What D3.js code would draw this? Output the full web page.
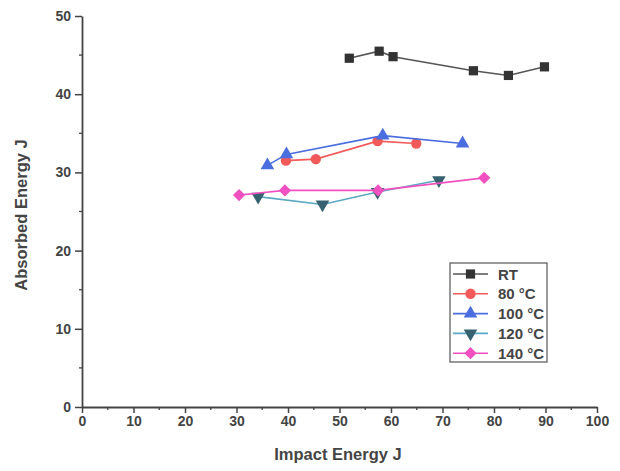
<!DOCTYPE html>
<html>
<head>
<meta charset="utf-8">
<script src="https://cdn.jsdelivr.net/npm/d3@7"></script>
<style>
  body { margin: 0; background: #fff; }
  svg text { font-family: "Liberation Sans", Arial, sans-serif; fill: #444; }
</style>
</head>
<body>
<svg id="chart" width="620" height="471"></svg>
<script>
// Data
const rtX = [51.9, 57.7, 60.4, 76.0, 82.8, 89.8];
const rtY = [44.6, 45.5, 44.8, 43.0, 42.4, 43.5];
const t80X = [39.6, 45.4, 57.4, 64.9];
const t80Y = [31.5, 31.7, 34.0, 33.7];
const t100X = [36.0, 39.7, 58.4, 73.9];
const t100Y = [30.9, 32.3, 34.7, 33.7];
const t120X = [34.2, 46.7, 57.4, 69.3];
const t120Y = [26.9, 25.9, 27.5, 29.0];
const t140X = [30.5, 39.4, 57.5, 78.1];
const t140Y = [27.1, 27.7, 27.7, 29.3];
const seriesNames = ['RT', '80 \u00B0C', '100 \u00B0C', '120 \u00B0C', '140 \u00B0C'];
const xTicks = [0, 10, 20, 30, 40, 50, 60, 70, 80, 90, 100];
const yTicks = [0, 10, 20, 30, 40, 50];

const series = [
  {name: seriesNames[0], xs: rtX, ys: rtY, line: '#555', fill: '#333', symbol: d3.symbolSquare, size: 85, rot: 0},
  {name: seriesNames[1], xs: t80X, ys: t80Y, line: '#f25a5a', fill: '#f25a5a', symbol: d3.symbolCircle, size: 85, rot: 0},
  {name: seriesNames[2], xs: t100X, ys: t100Y, line: '#4a6ee0', fill: '#4a6ee0', symbol: d3.symbolTriangle, size: 80, rot: 0},
  {name: seriesNames[3], xs: t120X, ys: t120Y, line: '#5aa8c4', fill: '#36626f', symbol: d3.symbolTriangle, size: 80, rot: 180},
  // diamond = square turned 45deg
  {name: seriesNames[4], xs: t140X, ys: t140Y, line: '#f050c0', fill: '#f050c0', symbol: d3.symbolSquare, size: 75, rot: 45}
];

const svg = d3.select('#chart');
const x = d3.scaleLinear().domain([0, 100]).range([82, 597]);
const y = d3.scaleLinear().domain([0, 50]).range([407, 16]);

// Axes
const xAxis = svg.append('g').attr('transform', 'translate(0,407)')
  .call(d3.axisBottom(x).tickValues(xTicks).tickSize(6).tickPadding(3).tickSizeOuter(0));
const yAxis = svg.append('g').attr('transform', 'translate(82,0)')
  .call(d3.axisLeft(y).tickValues(yTicks).tickSize(7).tickPadding(4).tickSizeOuter(0));

// minor ticks
svg.append('g').selectAll('line').data(d3.range(5, 100, 10)).join('line')
  .attr('x1', d => x(d)).attr('x2', d => x(d)).attr('y1', 407).attr('y2', 410)
  .attr('stroke', '#444').attr('stroke-width', 1.3);
svg.append('g').selectAll('line').data(d3.range(5, 50, 10)).join('line')
  .attr('y1', d => y(d)).attr('y2', d => y(d)).attr('x1', 82).attr('x2', 79)
  .attr('stroke', '#444').attr('stroke-width', 1.3);

[xAxis, yAxis].forEach(a => {
  a.select('.domain').attr('stroke', '#444').attr('stroke-width', 1.8);
  a.selectAll('.tick line').attr('stroke', '#444').attr('stroke-width', 1.5);
  a.selectAll('.tick text').style('font-size', '14px').style('font-weight', 'bold').attr('fill', '#444');
});

// Axis titles
svg.append('text').attr('x', 338).attr('y', 460).attr('text-anchor', 'middle')
  .style('font-size', '16.5px').style('font-weight', 'bold').text('Impact Energy J');
svg.append('text').attr('transform', 'translate(27,215) rotate(-90)').attr('text-anchor', 'middle')
  .style('font-size', '16.5px').style('font-weight', 'bold').text('Absorbed Energy J');

// Lines and markers
const line = d3.line().x(d => x(d[0])).y(d => y(d[1]));
series.forEach(s => {
  const pts = s.xs.map((v, i) => [v, s.ys[i]]);
  svg.append('path').datum(pts).attr('d', line)
    .attr('fill', 'none').attr('stroke', s.line).attr('stroke-width', 1.6);
  svg.append('g').selectAll('path').data(pts).join('path')
    .attr('d', d3.symbol().type(s.symbol).size(s.size))
    .attr('transform', d => `translate(${x(d[0])},${y(d[1])}) rotate(${s.rot})`)
    .attr('fill', s.fill);
});

// Legend
const leg = svg.append('g').attr('transform', 'translate(450,263)');
leg.append('rect').attr('width', 97).attr('height', 99)
  .attr('fill', '#fff').attr('stroke', '#555').attr('stroke-width', 1.2);
series.forEach((s, i) => {
  const ry = 11 + i * 19.8;
  const row = leg.append('g').attr('transform', `translate(0,${ry})`);
  row.append('line').attr('x1', 3).attr('x2', 38).attr('stroke', s.line).attr('stroke-width', 1.6);
  row.append('path').attr('d', d3.symbol().type(s.symbol).size(s.size))
    .attr('transform', `translate(20.5,0) rotate(${s.rot})`).attr('fill', s.fill);
  row.append('text').attr('x', 48).attr('y', 5.5).style('font-size', '15px')
    .style('font-weight', 'bold').attr('fill', '#333').text(s.name);
});
</script>
</body>
</html>
